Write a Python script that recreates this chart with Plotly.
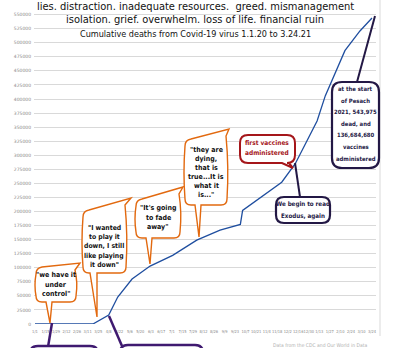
import plotly.graph_objects as go

# ---------------- data ----------------
dates = ["2020-01-01", "2020-03-18", "2020-04-08", "2020-04-20", "2020-05-09",
         "2020-06-02", "2020-07-02", "2020-08-03", "2020-09-03", "2020-09-30",
         "2020-10-03", "2020-11-24", "2020-12-12", "2021-01-10", "2021-01-21",
         "2021-01-31", "2021-02-16", "2021-03-08", "2021-03-24"]
deaths = [0, 0, 16000, 48000, 80000,
          103000, 122000, 149000, 167000, 177000,
          202000, 252000, 285000, 361000, 406000,
          436000, 486000, 521000, 543975]

tick_dates = ["2020-01-01", "2020-01-15", "2020-01-29", "2020-02-12", "2020-02-26",
              "2020-03-11", "2020-03-25", "2020-04-08", "2020-04-22", "2020-05-06",
              "2020-05-20", "2020-06-03", "2020-06-17", "2020-07-01", "2020-07-15",
              "2020-07-29", "2020-08-12", "2020-08-26", "2020-09-09", "2020-09-23",
              "2020-10-07", "2020-10-21", "2020-11-04", "2020-11-18", "2020-12-02",
              "2020-12-16", "2020-12-30", "2021-01-13", "2021-01-27", "2021-02-10",
              "2021-02-24", "2021-03-10", "2021-03-24"]
tick_text = ["1/1", "1/15", "1/29", "2/12", "2/26", "3/11", "3/25", "4/8", "4/22",
             "5/6", "5/20", "6/3", "6/17", "7/1", "7/15", "7/29", "8/12", "8/26",
             "9/9", "9/23", "10/7", "10/21", "11/4", "11/18", "12/2", "12/16",
             "12/30", "1/13", "1/27", "2/10", "2/24", "3/10", "3/24"]
y_ticks = [0, 25000, 50000, 75000, 100000, 125000, 150000, 175000, 200000,
           225000, 250000, 275000, 300000, 325000, 350000, 375000, 400000,
           425000, 450000, 475000, 500000, 525000, 550000, 575000]
y_text = [str(v) for v in y_ticks]

title_lines = ["lies. distraction. inadequate resources.  greed. mismanagement",
               "isolation. grief. overwhelm. loss of life. financial ruin"]
subtitle = "Cumulative deaths from Covid-19 virus 1.1.20 to 3.24.21"
source_note = "Data from the CDC and Our World in Data"

# ---------------- layout helpers (pixel -> paper) ----------------
W, H = 398, 348
ML, MR, MT, MB = 34, 22, 0, 24
PW = W - ML - MR
PH = H - MT - MB


def px(x):
    return (x - ML) / PW


def py(y):
    return (MT + PH - y) / PH


def path(cmds):
    out = []
    for c in cmds:
        out.append(c[0] + " " + " ".join(f"{px(x):.5f},{py(y):.5f}" for x, y in c[1:]))
    return " ".join(out) + " Z"


def orange_bubble(L, T, R, B, horn, tail, r=6):
    hx, hy = horn
    tl, tr, tx, ty = tail
    cmds = [("M", (L, T + r)),
            ("Q", (L, T), (L + r, T - 1)),
            ("L", (hx, hy)),
            ("L", (R - 1, hy + 7)),
            ("Q", (R + 2, (hy + B) / 2), (R, B - r)),
            ("Q", (R, B), (R - r, B)),
            ("L", (tr, B)),
            ("L", (tx, ty)),
            ("L", (tl, B)),
            ("L", (L + r, B)),
            ("Q", (L, B), (L, B - r)),
            ("Q", (L - 2, (T + B) / 2), (L, T + r))]
    return path(cmds)


def rrect(L, T, R, B, r, tail=None):
    cmds = [("M", (L + r, T)), ("L", (R - r, T)), ("Q", (R, T), (R, T + r)),
            ("L", (R, B - r)), ("Q", (R, B), (R - r, B))]
    if tail:
        tr, tx, ty, tl = tail
        cmds += [("L", (tr, B)), ("L", (tx, ty)), ("L", (tl, B))]
    cmds += [("L", (L + r, B)), ("Q", (L, B), (L, B - r)), ("L", (L, T + r)),
             ("Q", (L, T), (L + r, T))]
    return path(cmds)


FONT = "Liberation Sans Narrow, DejaVu Sans Condensed, Arial Narrow, sans-serif"
ORANGE = "#E2690F"
NAVY = "#231845"
PURPLE = "#3F1A70"
RED = "#A5161A"

shapes = []
annotations = []


def add_path(p, color, width, fill="white"):
    shapes.append(dict(type="path", xref="paper", yref="paper", path=p,
                       line=dict(color=color, width=width), fillcolor=fill,
                       layer="above"))


def add_line(x0, y0, x1, y1, color, width):
    shapes.append(dict(type="line", xref="paper", yref="paper",
                       x0=px(x0), y0=py(y0), x1=px(x1), y1=py(y1),
                       line=dict(color=color, width=width), layer="above"))


def text_block(lines, cx, y0, dy, size, color, bold=True, family=FONT):
    for i, t in enumerate(lines):
        tt = f"<b>{t}</b>" if bold else t
        annotations.append(dict(xref="paper", yref="paper", x=px(cx), y=py(y0 + i * dy),
                                text=tt, showarrow=False, xanchor="center",
                                yanchor="middle",
                                font=dict(family=family, size=size, color=color)))


# chart frame line on the right
shapes.append(dict(type="line", xref="paper", yref="paper", x0=px(380), x1=px(380),
                   y0=py(0), y1=py(336), line=dict(color="#d9d9d9", width=1)))

# bottom purple boxes (cut off)
add_line(48, 347, 52, 323, PURPLE, 2.5)
add_line(122, 346, 109, 316, PURPLE, 2.5)
add_path(rrect(30, 346, 98, 385, 8), PURPLE, 2.5)
add_path(rrect(120, 345, 203, 385, 8), PURPLE, 2.5)

# orange speech bubbles
add_path(orange_bubble(36, 268, 76, 302, (80, 263), (46, 52, 50, 323)), ORANGE, 1.4)
text_block(['"we have it', 'under', 'control"'], 56, 275, 9.5, 7, "#111")

add_path(orange_bubble(83, 211, 126, 273, (131, 198), (90, 97, 97, 317)), ORANGE, 1.4)
text_block(['"I wanted', 'to play it', 'down, I still', 'like playing', 'it down"'],
           104, 228, 9.2, 6.8, "#111")

add_path(orange_bubble(136, 200, 180, 238, (183, 187), (146, 152, 150, 264)), ORANGE, 1.4)
text_block(['"It\'s going', 'to fade', 'away"'], 158, 208, 9.5, 7, "#111")

add_path(orange_bubble(185, 140, 227, 205, (229, 129), (195, 201, 199, 237)), ORANGE, 1.4)
text_block(['"they are', 'dying,', 'that is', 'true...It is', 'what it', 'is..."'],
           206, 150, 8.9, 7, "#111")

# first vaccines (red)
add_path(rrect(240, 135, 295, 163, 8, tail=(289, 293, 168, 282)), RED, 2)
text_block(['first vaccines', 'administered'], 267, 143, 10, 6.5, RED)

# Exodus box
add_line(300, 197, 295, 163, NAVY, 2)
add_path(rrect(276, 197, 330, 223, 8), NAVY, 2.2)
text_block(['We begin to read', 'Exodus, again'], 303, 204, 12, 6.2, NAVY)

# Pesach box
add_line(357, 82, 375, 16, NAVY, 2)
add_path(rrect(332, 82, 379, 168, 10), NAVY, 2.2)
text_block(['at the start', 'of Pesach', '2021, 543,975', 'dead, and', '136,684,680',
            'vaccines', 'administered'], 355.5, 89, 11.6, 5.9, NAVY)

# titles
for i, t in enumerate(title_lines):
    annotations.append(dict(xref="paper", yref="paper", x=px(195), y=py(7 + 12 * i),
                            text=t, showarrow=False, xanchor="center", yanchor="middle",
                            font=dict(family=FONT, size=11, color="#111")))
annotations.append(dict(xref="paper", yref="paper", x=px(195), y=py(34),
                        text=subtitle, showarrow=False, xanchor="center",
                        yanchor="middle", font=dict(family=FONT, size=9, color="#111")))
annotations.append(dict(xref="paper", yref="paper", x=px(320), y=py(345),
                        text=source_note, showarrow=False, xanchor="center",
                        yanchor="middle", font=dict(family=FONT, size=5, color="#b0b0b0")))

# ---------------- figure ----------------
fig = go.Figure()
fig.add_trace(go.Scatter(x=dates, y=deaths, mode="lines",
                         line=dict(color="#1F4E9F", width=1.3), hoverinfo="skip"))

fig.update_layout(
    width=W, height=H,
    margin=dict(l=ML, r=MR, t=MT, b=MB, pad=0),
    plot_bgcolor="white", paper_bgcolor="white",
    showlegend=False,
    shapes=shapes, annotations=annotations,
    xaxis=dict(type="date", range=["2019-12-30 16:00", "2021-03-29 08:00"],
               tickvals=tick_dates, ticktext=tick_text, tickangle=0,
               tickfont=dict(size=4, color="#888", family=FONT),
               showgrid=False, zeroline=False, showline=False, ticks="",
               ticklabelstandoff=4),
    yaxis=dict(range=[0, 576000], tickvals=y_ticks, ticktext=y_text,
               tickfont=dict(size=4.5, color="#888", family="DejaVu Sans"),
               gridcolor="#d9d9d9", gridwidth=1, zeroline=False, showline=False,
               ticks="", ticklabelstandoff=2),
)

fig.write_html("out.html")
